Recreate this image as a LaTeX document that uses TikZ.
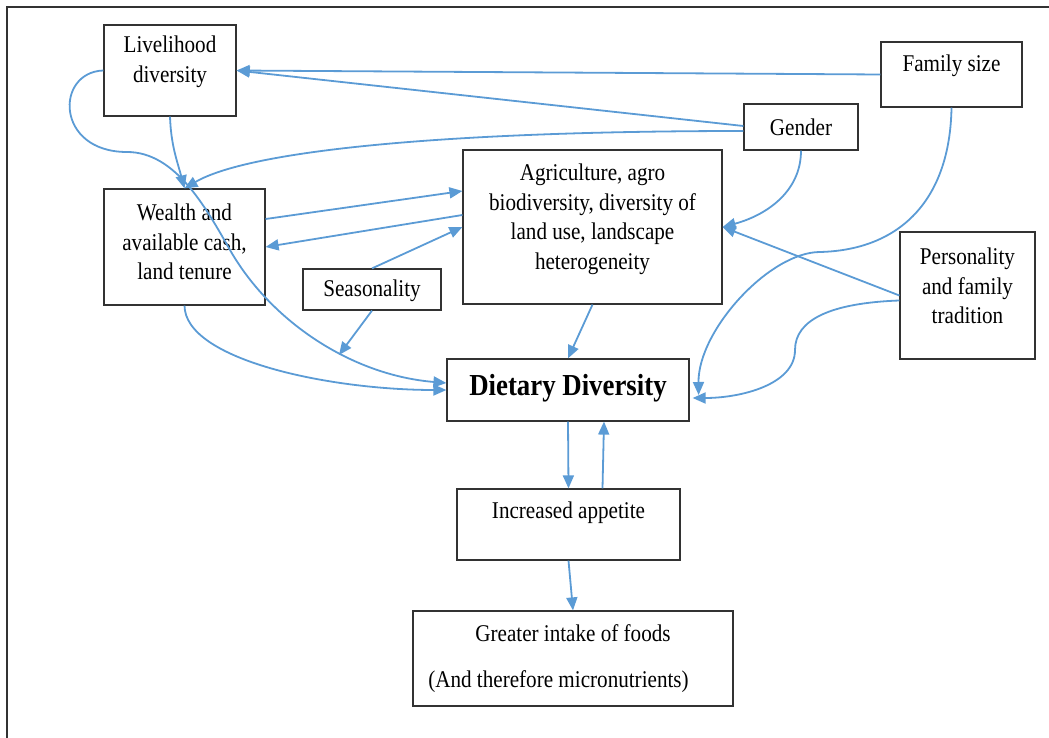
\documentclass[tikz,border=0pt]{standalone}
\usepackage{fontspec}
\setmainfont{Liberation Serif}[FakeStretch=0.88]
\usetikzlibrary{arrows.meta}
\definecolor{linkblue}{RGB}{91,155,213}
\definecolor{boxgray}{RGB}{50,50,50}

\begin{document}
\begin{tikzpicture}[%
		x=1pt, y=1pt,
		>={Triangle[length=13pt,width=11pt]},
		factor/.style={%
			draw=boxgray,
			line width=1.2pt,
			inner sep=0pt
		},
		txt/.style={%
			align=center,
			inner sep=0pt,
			font=\fontsize{24}{29.5}\selectfont
		},
		link/.style={%
			->,
			draw=linkblue,
			line width=1.8pt
		}
		]
		\useasboundingbox (0,0) rectangle (1049,-738);
		\draw[boxgray, line width=1.4pt] (7,-738) -- (7,-7) -- (1049,-7);

		\node[factor, minimum width=132pt, minimum height=91pt, label={[txt, yshift=8.5pt]center:Livelihood\\diversity}] (live) at (170,-70.5) {};
		\node[factor, minimum width=141pt, minimum height=65pt, label={[txt, yshift=9pt]center:Family size}] (fam) at (951.5,-74.5) {};
		\node[factor, minimum width=114pt, minimum height=46pt, label={[txt]center:Gender}] (gen) at (801,-127) {};
		\node[factor, minimum width=259pt, minimum height=154pt, label={[txt, yshift=7.5pt]center:Agriculture, agro\\biodiversity, diversity of\\land use, landscape\\heterogeneity}] (agri) at (592.5,-227) {};
		\node[factor, minimum width=161pt, minimum height=116pt, label={[txt, yshift=5pt]center:Wealth and\\available cash,\\land tenure}] (wealth) at (184.5,-247) {};
		\node[factor, minimum width=138pt, minimum height=41pt, label={[txt, yshift=-1.5pt]center:Seasonality}] (seas) at (372,-289.5) {};
		\node[factor, minimum width=135pt, minimum height=127pt, label={[txt, yshift=9.5pt]center:Personality\\and family\\tradition}] (pers) at (967.5,-295.5) {};
		\node[factor, minimum width=242pt, minimum height=62pt, label={[txt, yshift=2pt, font=\fontsize{30.5}{36}\selectfont\bfseries]center:Dietary Diversity}] (diet) at (568,-390) {};
		\node[factor, minimum width=223pt, minimum height=71pt, label={[txt, yshift=11.5pt]center:Increased appetite}] (inc) at (568.5,-524.5) {};
		\node[factor, minimum width=320pt, minimum height=95pt, label={[txt, yshift=25.5pt]center:Greater intake of foods}, label={[txt, xshift=-14.5pt, yshift=-23pt]center:(And therefore micronutrients)}] (great) at (573,-658.5) {};
		\coordinate (seasend) at (339,-355);

		\path (fam.west) edge[link] (live.east)
		([yshift=1pt]gen.west) edge[link] (live.east)
		([yshift=28pt]wealth.east) edge[link] ([yshift=36pt]agri.west)
		([yshift=12pt]agri.west) edge[link] (wealth.east)
		(seas.north) edge[link] (agri.west)
		(seas.south) edge[link] (seasend)
		(agri.south) edge[link] (diet.north)
		(pers.west) edge[link] (agri.east)
		(diet.south) edge[link] (inc.north)
		([xshift=34pt]inc.north) edge[link] ([xshift=36pt]diet.south)
		(inc.south) edge[link] (great.north);

		\draw[link] ([yshift=-4pt]gen.west) .. controls (450,-131) and (250,-150) .. (wealth.north);
		\draw[link] (live.south) to[out=-88, in=105] (wealth.north);
		\draw[link] (live.west) .. controls (55,-72) and (55,-152) .. (127,-152)
		.. controls (175,-152) and (205,-206) .. (230,-250)
		.. controls (270,-320) and (350,-375) .. ([yshift=7pt]diet.west);
		\draw[link] (wealth.south) .. controls (185,-360) and (330,-390) .. (diet.west);
		\draw[link] (gen.south) to[out=-90, in=15] (agri.east);
		\draw[link] (fam.south) .. controls (950,-200) and (900,-250) .. (820,-252)
		.. controls (770,-252) and (698,-330) .. ([xshift=9pt, yshift=-5pt]diet.east);
		\draw[link] ([yshift=-5pt]pers.west) .. controls (830,-303) and (795,-320) .. (795,-350)
		.. controls (795,-385) and (740,-398) .. ([xshift=3pt, yshift=-8pt]diet.east);
\end{tikzpicture}
\end{document}
